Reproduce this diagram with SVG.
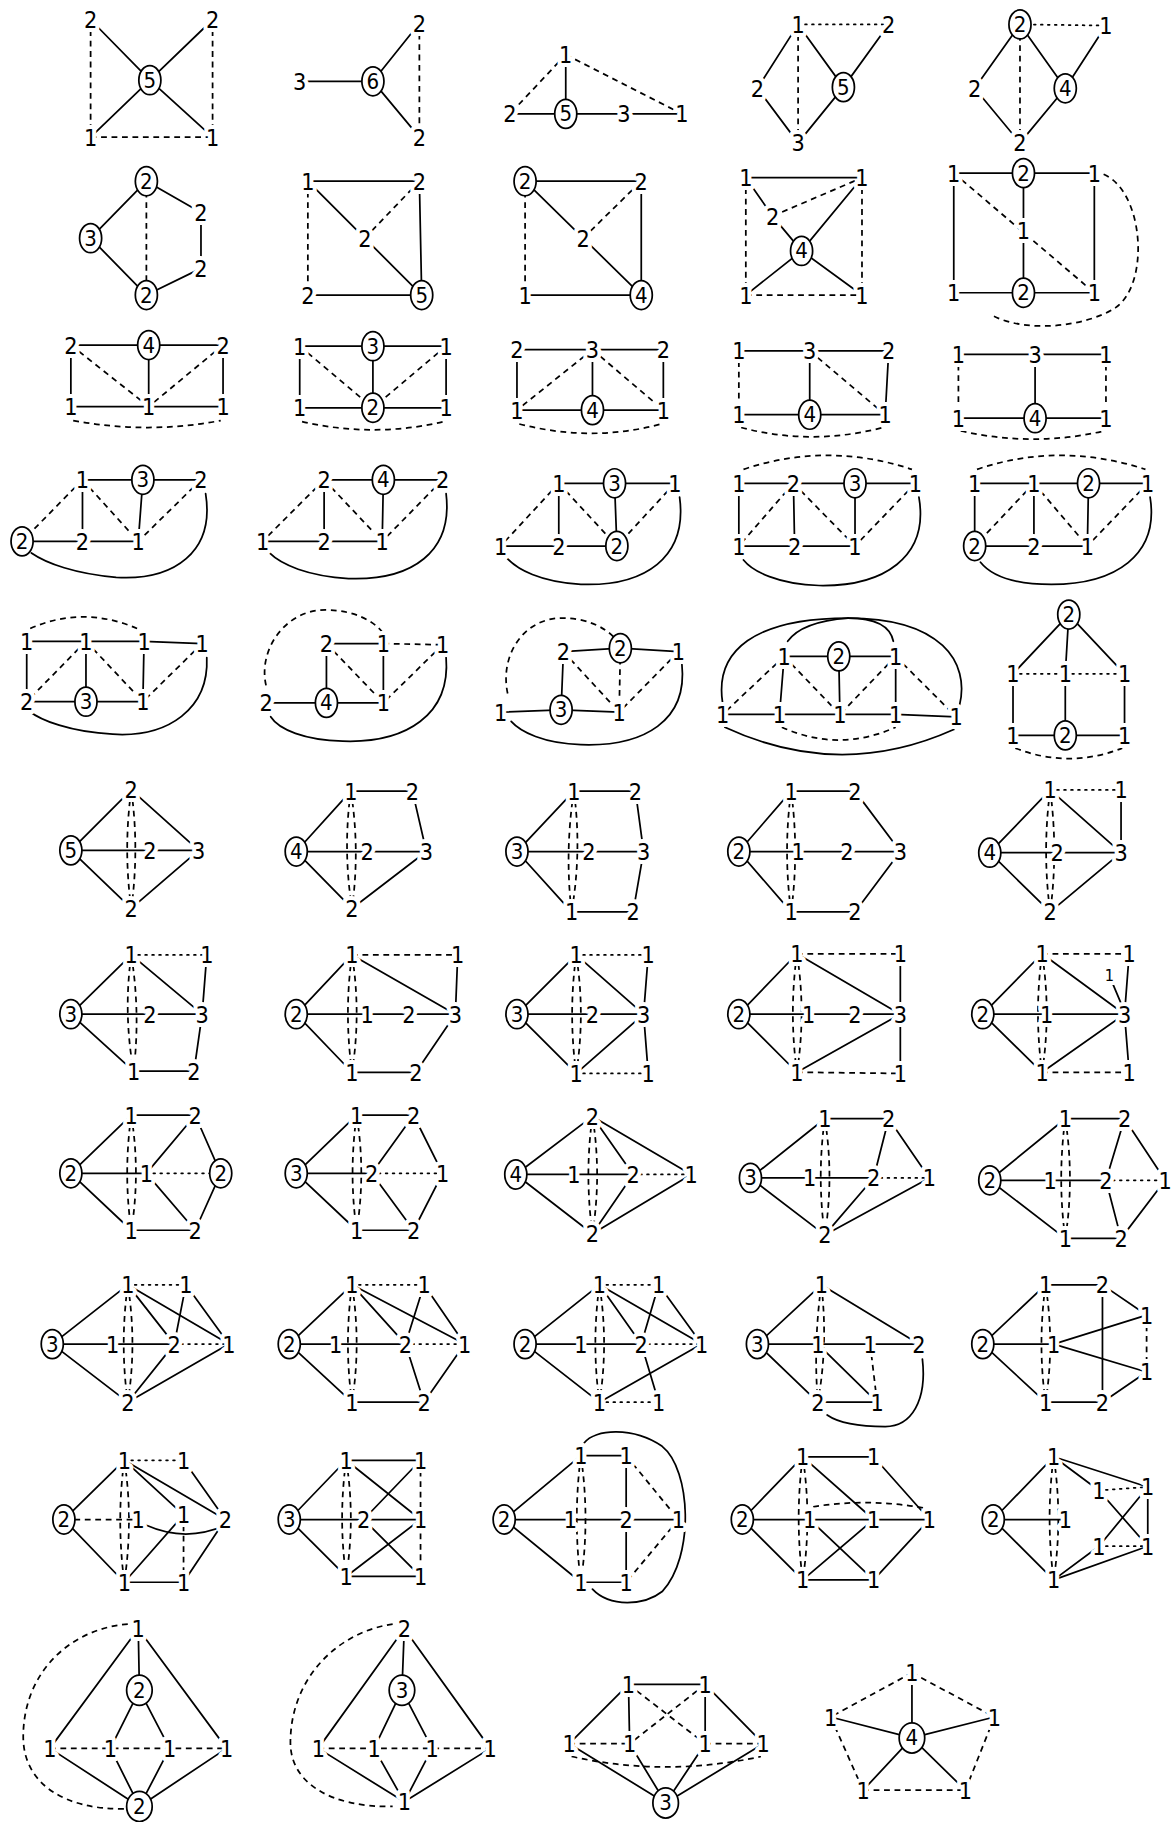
<svg xmlns="http://www.w3.org/2000/svg" width="1171" height="1822" viewBox="0 0 1171 1822">
<style>
.s path{stroke:#000;stroke-width:1.5;fill:none;stroke-linecap:round}
.d path{stroke:#000;stroke-width:1.5;fill:none;stroke-dasharray:5 4}
.o path{stroke:#000;stroke-width:1.5;fill:none;stroke-dasharray:1.5 4.5;stroke-linecap:round}
text{font-family:"Liberation Sans Narrow","DejaVu Sans Condensed","Liberation Sans",sans-serif;font-size:20px;text-anchor:middle;dominant-baseline:central;fill:#000}
.n>text{stroke:#fff;stroke-width:7;paint-order:stroke;stroke-linejoin:round}
.c text{font-size:19px}
ellipse{fill:#fff;stroke:#000;stroke-width:1.5}
.sm{font-size:14px}
</style>
<rect width="1171" height="1822" fill="#fff"/>
<g transform="scale(1.16171)">
<g id="connectors">
<g id="e1"><g class="s"><path d="M78 17L129 69"/><path d="M183 17L129 69"/><path d="M78 118L129 69"/><path d="M183 118L129 69"/></g><g class="d"><path d="M78 17L78 118"/><path d="M183 17L183 118"/><path d="M78 118L183 118"/></g></g>
<g id="e2"><g class="s"><path d="M258 70L321 70"/><path d="M321 70L361 20"/><path d="M321 70L361 118"/></g><g class="d"><path d="M361 20L361 118"/></g></g>
<g id="e3"><g class="s"><path d="M487 47L487 98"/><path d="M439 98L487 98"/><path d="M487 98L537 98"/><path d="M537 98L587 98"/></g><g class="d"><path d="M487 47L439 98"/><path d="M487 47L587 98"/></g></g>
<g id="e4"><g class="s"><path d="M687 21L652 76"/><path d="M652 76L687 123"/><path d="M687 21L726 75"/><path d="M765 21L726 75"/><path d="M726 75L687 123"/></g><g class="d"><path d="M687 21L687 123"/></g><g class="o"><path d="M687 21L765 21"/></g></g>
<g id="e5"><g class="s"><path d="M878 21L839 76"/><path d="M839 76L878 123"/><path d="M878 21L917 76"/><path d="M952 22L917 76"/><path d="M917 76L878 123"/></g><g class="d"><path d="M878 21L878 123"/></g><g class="o"><path d="M878 21L952 22"/></g></g>
<g id="e6"><g class="s"><path d="M126 156L78 205"/><path d="M78 205L126 254"/><path d="M126 156L173 183"/><path d="M173 183L173 231"/><path d="M173 231L126 254"/></g><g class="d"><path d="M126 156L126 254"/></g></g>
<g id="e7"><g class="s"><path d="M265 156L361 156"/><path d="M265 156L314 205"/><path d="M361 156L363 254"/><path d="M314 205L363 254"/><path d="M265 254L363 254"/></g><g class="d"><path d="M314 205L361 156"/><path d="M265 156L265 254"/></g></g>
<g id="e8"><g class="s"><path d="M452 156L552 156"/><path d="M452 156L502 205"/><path d="M552 156L552 254"/><path d="M502 205L552 254"/><path d="M452 254L552 254"/></g><g class="d"><path d="M502 205L552 156"/><path d="M452 156L452 254"/></g></g>
<g id="e9"><g class="s"><path d="M642 153L742 153"/><path d="M642 153L665 186"/><path d="M665 186L690 216"/><path d="M690 216L742 153"/><path d="M690 216L642 254"/><path d="M690 216L742 254"/></g><g class="d"><path d="M642 153L642 254"/><path d="M742 153L742 254"/><path d="M642 254L742 254"/><path d="M665 186L742 153"/></g></g>
<g id="e10"><g class="s"><path d="M821 149L942 149"/><path d="M821 252L942 252"/><path d="M821 149L821 252"/><path d="M942 149L942 252"/><path d="M881 149L881 252"/></g><g class="d"><path d="M821 149L942 252"/><path d="M950 150C985 165 990 245 960 265C935 281 885 287 855 272"/></g></g>
<g id="e11"><g class="s"><path d="M61 297L192 297"/><path d="M61 350L192 350"/><path d="M61 297L61 350"/><path d="M192 297L192 350"/><path d="M128 297L128 350"/></g><g class="d"><path d="M61 297L128 350"/><path d="M192 297L128 350"/><path d="M63 362Q128 374 190 362"/></g></g>
<g id="e12"><g class="s"><path d="M258 298L384 298"/><path d="M258 351L384 351"/><path d="M258 298L258 351"/><path d="M384 298L384 351"/><path d="M321 298L321 351"/></g><g class="d"><path d="M258 298L321 351"/><path d="M384 298L321 351"/><path d="M260 363Q321 377 382 363"/></g></g>
<g id="e13"><g class="s"><path d="M445 301L571 301"/><path d="M445 353L571 353"/><path d="M445 301L445 353"/><path d="M571 301L571 353"/><path d="M510 301L510 353"/></g><g class="d"><path d="M510 301L445 353"/><path d="M510 301L571 353"/><path d="M447 365Q510 381 569 365"/></g></g>
<g id="e14"><g class="s"><path d="M636 302L765 302"/><path d="M636 357L762 357"/><path d="M765 302L762 357"/><path d="M697 302L697 357"/></g><g class="d"><path d="M636 302L636 357"/><path d="M697 302L762 357"/><path d="M638 368Q698 384 760 368"/></g></g>
<g id="e15"><g class="s"><path d="M825 305L952 305"/><path d="M825 360L952 360"/><path d="M891 305L891 360"/></g><g class="d"><path d="M825 305L825 360"/><path d="M952 305L952 360"/><path d="M827 371Q890 385 950 371"/></g></g>
<g id="e16"><g class="s"><path d="M71 413L173 413"/><path d="M19 466L119 466"/><path d="M71 413L71 466"/><path d="M123 413L119 466"/><path d="M177 425C185 475 150 500 100 497C65 494 40 485 27 476"/></g><g class="d"><path d="M71 413L119 466"/><path d="M173 413L119 466"/><path d="M71 413L19 466"/></g></g>
<g id="e17"><g class="s"><path d="M279 413L381 413"/><path d="M226 466L329 466"/><path d="M279 413L279 466"/><path d="M330 413L329 466"/><path d="M384 425C390 475 355 500 300 498C265 496 242 486 232 476"/></g><g class="d"><path d="M279 413L329 466"/><path d="M381 413L329 466"/><path d="M279 413L226 466"/></g></g>
<g id="e18"><g class="s"><path d="M481 416L581 416"/><path d="M431 470L531 470"/><path d="M481 416L481 470"/><path d="M529 416L531 470"/><path d="M585 428C592 480 555 505 500 503C465 501 445 490 436 480"/></g><g class="d"><path d="M481 416L531 470"/><path d="M581 416L531 470"/><path d="M481 416L431 470"/></g></g>
<g id="e19"><g class="s"><path d="M636 416L788 416"/><path d="M636 470L736 470"/><path d="M636 416L636 470"/><path d="M683 416L684 470"/><path d="M736 416L736 470"/><path d="M791 428C800 480 760 505 705 504C670 503 648 492 640 482"/></g><g class="d"><path d="M683 416L636 470"/><path d="M683 416L736 470"/><path d="M788 416L736 470"/><path d="M640 404Q712 380 785 404"/></g></g>
<g id="e20"><g class="s"><path d="M839 416L988 416"/><path d="M839 470L936 470"/><path d="M839 416L839 470"/><path d="M890 416L890 470"/><path d="M937 416L936 470"/><path d="M990 428C998 478 960 503 905 503C870 503 852 494 844 484"/></g><g class="d"><path d="M890 416L839 470"/><path d="M890 416L936 470"/><path d="M988 416L936 470"/><path d="M841 404Q912 380 986 404"/></g></g>
<g id="e21"><g class="s"><path d="M23 552L124 552"/><path d="M124 552L174 554"/><path d="M23 604L123 604"/><path d="M23 552L23 604"/><path d="M74 552L74 604"/><path d="M124 552L123 604"/><path d="M178 566C180 610 145 635 97 632C60 630 35 620 25 612"/></g><g class="d"><path d="M74 552L23 604"/><path d="M74 552L123 604"/><path d="M174 554L123 604"/><path d="M26 541Q71 521 118 541"/></g></g>
<g id="e22"><g class="s"><path d="M281 554L330 554"/><path d="M229 605L330 605"/><path d="M281 554L281 605"/><path d="M330 554L330 605"/><path d="M384 566C388 615 350 640 295 638C262 637 240 628 233 617"/></g><g class="d"><path d="M330 554L381 555"/><path d="M281 554L330 605"/><path d="M381 555L330 605"/><path d="M229 590C222 560 245 525 280 525C305 525 322 535 329 544"/></g></g>
<g id="e23"><g class="s"><path d="M485 561L534 558"/><path d="M534 558L584 561"/><path d="M431 613L483 611"/><path d="M483 611L533 613"/><path d="M485 561L483 611"/><path d="M587 572C592 620 555 643 500 641C468 640 448 630 440 621"/></g><g class="d"><path d="M534 558L533 613"/><path d="M485 561L533 613"/><path d="M584 561L533 613"/><path d="M437 597C430 565 450 532 484 532C505 532 520 540 528 548"/></g></g>
<g id="e24"><g class="s"><path d="M675 565L771 565"/><path d="M622 615L771 615"/><path d="M771 615L823 617"/><path d="M675 565L671 615"/><path d="M722 565L723 615"/><path d="M771 565L771 615"/><path d="M622 605C615 560 650 532 730 532C810 532 835 570 826 607"/><path d="M730 532Q690 535 678 552"/><path d="M730 532Q765 532 769 552"/><path d="M624 626Q723 672 821 628"/></g><g class="d"><path d="M675 565L622 615"/><path d="M675 565L723 615"/><path d="M771 565L723 615"/><path d="M771 565L823 617"/><path d="M673 626Q722 648 771 626"/></g></g>
<g id="e25"><g class="s"><path d="M920 529L872 580"/><path d="M920 529L917 580"/><path d="M920 529L968 580"/><path d="M872 580L872 633"/><path d="M917 580L917 633"/><path d="M968 580L968 633"/><path d="M872 633L968 633"/></g><g class="o"><path d="M872 580L917 580"/><path d="M917 580L968 580"/></g><g class="d"><path d="M874 644Q920 662 966 644"/></g></g>
<g id="e26"><g class="s"><path d="M113 680L61 732"/><path d="M61 732L113 782"/><path d="M113 680L171 732"/><path d="M171 732L113 782"/><path d="M61 732L171 732"/></g><g class="d"><path d="M113 680Q106 731 113 782"/><path d="M113 680Q120 731 113 782"/></g></g>
<g id="e27"><g class="s"><path d="M302 681L355 681"/><path d="M355 681L367 733"/><path d="M255 733L302 681"/><path d="M255 733L303 782"/><path d="M255 733L367 733"/><path d="M367 733L303 782"/></g><g class="d"><path d="M302 681Q295 731 303 782"/><path d="M302 681Q310 731 303 782"/></g></g>
<g id="e28"><g class="s"><path d="M494 681L547 681"/><path d="M547 681L554 733"/><path d="M445 733L494 681"/><path d="M445 733L492 785"/><path d="M445 733L554 733"/><path d="M554 733L545 785"/><path d="M492 785L545 785"/></g><g class="d"><path d="M494 681Q486 733 492 785"/><path d="M494 681Q501 733 492 785"/></g></g>
<g id="e29"><g class="s"><path d="M681 681L736 681"/><path d="M736 681L775 733"/><path d="M636 733L681 681"/><path d="M636 733L681 785"/><path d="M636 733L775 733"/><path d="M775 733L736 785"/><path d="M681 785L736 785"/></g><g class="d"><path d="M681 681Q674 733 681 785"/><path d="M681 681Q688 733 681 785"/></g></g>
<g id="e30"><g class="s"><path d="M965 680L965 734"/><path d="M852 734L904 680"/><path d="M852 734L904 785"/><path d="M904 680L965 734"/><path d="M965 734L904 785"/><path d="M852 734L965 734"/></g><g class="o"><path d="M904 680L965 680"/></g><g class="d"><path d="M904 680Q897 733 904 785"/><path d="M904 680Q911 733 904 785"/></g></g>
<g id="e31"><g class="s"><path d="M178 822L174 873"/><path d="M113 822L174 873"/><path d="M61 873L113 822"/><path d="M61 873L115 922"/><path d="M61 873L174 873"/><path d="M174 873L167 922"/><path d="M115 922L167 922"/></g><g class="o"><path d="M113 822L178 822"/></g><g class="d"><path d="M113 822Q106 872 115 922"/><path d="M113 822Q121 872 115 922"/></g></g>
<g id="e32"><g class="s"><path d="M394 822L392 873"/><path d="M303 822L392 873"/><path d="M255 873L303 822"/><path d="M255 873L303 923"/><path d="M255 873L392 873"/><path d="M392 873L358 923"/><path d="M303 923L358 923"/></g><g class="d"><path d="M303 822L394 822"/><path d="M303 822Q296 872 303 923"/><path d="M303 822Q311 872 303 923"/></g></g>
<g id="e33"><g class="s"><path d="M558 822L554 873"/><path d="M554 873L558 924"/><path d="M445 873L496 822"/><path d="M445 873L496 924"/><path d="M445 873L554 873"/><path d="M496 822L554 873"/><path d="M496 924L554 873"/></g><g class="o"><path d="M496 822L558 822"/><path d="M496 924L558 924"/></g><g class="d"><path d="M496 822Q489 873 496 924"/><path d="M496 822Q504 873 496 924"/></g></g>
<g id="e34"><g class="s"><path d="M775 821L775 924"/><path d="M636 873L686 821"/><path d="M636 873L686 923"/><path d="M636 873L775 873"/><path d="M686 821L775 873"/><path d="M686 923L775 873"/></g><g class="d"><path d="M686 821L775 821"/><path d="M686 923L775 924"/><path d="M686 821Q679 872 686 923"/><path d="M686 821Q694 872 686 923"/></g></g>
<g id="e35"><g class="s"><path d="M972 821L968 873"/><path d="M968 873L972 923"/><path d="M846 873L897 821"/><path d="M846 873L897 923"/><path d="M846 873L968 873"/><path d="M897 821L968 873"/><path d="M897 923L968 873"/><path d="M955 840L966 866"/></g><g class="d"><path d="M897 821L972 821"/><path d="M897 923L972 923"/><path d="M897 821Q890 872 897 923"/><path d="M897 821Q905 872 897 923"/></g></g>
<g id="e36"><g class="s"><path d="M113 960L168 960"/><path d="M61 1010L113 960"/><path d="M61 1010L113 1059"/><path d="M61 1010L126 1010"/><path d="M168 960L126 1010"/><path d="M168 960L190 1010"/><path d="M126 1010L168 1059"/><path d="M190 1010L168 1059"/><path d="M113 1059L168 1059"/></g><g class="o"><path d="M126 1010L190 1010"/></g><g class="d"><path d="M113 960Q106 1010 113 1059"/><path d="M113 960Q121 1010 113 1059"/></g></g>
<g id="e37"><g class="s"><path d="M307 960L356 960"/><path d="M255 1010L307 960"/><path d="M255 1010L307 1059"/><path d="M255 1010L320 1010"/><path d="M356 960L320 1010"/><path d="M356 960L381 1010"/><path d="M320 1010L356 1059"/><path d="M381 1010L356 1059"/><path d="M307 1059L356 1059"/></g><g class="o"><path d="M320 1010L381 1010"/></g><g class="d"><path d="M307 960Q300 1010 307 1059"/><path d="M307 960Q315 1010 307 1059"/></g></g>
<g id="e38"><g class="s"><path d="M510 961L444 1011"/><path d="M444 1011L510 1062"/><path d="M510 961L545 1011"/><path d="M510 961L595 1011"/><path d="M545 1011L510 1062"/><path d="M595 1011L510 1062"/><path d="M444 1011L545 1011"/></g><g class="o"><path d="M545 1011L595 1011"/></g><g class="d"><path d="M510 961Q503 1011 510 1062"/><path d="M510 961Q518 1011 510 1062"/></g></g>
<g id="e39"><g class="s"><path d="M710 963L765 963"/><path d="M646 1014L710 963"/><path d="M646 1014L710 1063"/><path d="M765 963L752 1014"/><path d="M765 963L800 1014"/><path d="M752 1014L710 1063"/><path d="M800 1014L710 1063"/><path d="M646 1014L752 1014"/></g><g class="o"><path d="M752 1014L800 1014"/></g><g class="d"><path d="M710 963Q703 1013 710 1063"/><path d="M710 963Q718 1013 710 1063"/></g></g>
<g id="e40"><g class="s"><path d="M917 963L968 963"/><path d="M852 1016L917 963"/><path d="M852 1016L917 1066"/><path d="M968 963L952 1016"/><path d="M968 963L1003 1016"/><path d="M952 1016L965 1066"/><path d="M1003 1016L965 1066"/><path d="M852 1016L952 1016"/><path d="M917 1066L965 1066"/></g><g class="o"><path d="M952 1016L1003 1016"/></g><g class="d"><path d="M917 963Q910 1015 917 1066"/><path d="M917 963Q925 1015 917 1066"/></g></g>
<g id="e41"><g class="s"><path d="M45 1157L110 1106"/><path d="M45 1157L110 1207"/><path d="M45 1157L150 1157"/><path d="M110 1106L150 1157"/><path d="M110 1106L197 1157"/><path d="M160 1106L150 1157"/><path d="M160 1106L197 1157"/><path d="M150 1157L110 1207"/><path d="M197 1157L110 1207"/></g><g class="o"><path d="M110 1106L160 1106"/><path d="M150 1157L197 1157"/></g><g class="d"><path d="M110 1106Q103 1157 110 1207"/><path d="M110 1106Q118 1157 110 1207"/></g></g>
<g id="e42"><g class="s"><path d="M249 1157L303 1106"/><path d="M249 1157L303 1207"/><path d="M249 1157L349 1157"/><path d="M303 1106L349 1157"/><path d="M303 1106L400 1157"/><path d="M365 1106L349 1157"/><path d="M365 1106L400 1157"/><path d="M349 1157L365 1207"/><path d="M400 1157L365 1207"/><path d="M303 1207L365 1207"/></g><g class="o"><path d="M303 1106L365 1106"/><path d="M349 1157L400 1157"/></g><g class="d"><path d="M303 1106Q296 1157 303 1207"/><path d="M303 1106Q311 1157 303 1207"/></g></g>
<g id="e43"><g class="s"><path d="M452 1157L516 1106"/><path d="M452 1157L516 1207"/><path d="M452 1157L552 1157"/><path d="M516 1106L552 1157"/><path d="M516 1106L604 1157"/><path d="M567 1106L552 1157"/><path d="M567 1106L604 1157"/><path d="M552 1157L567 1207"/><path d="M604 1157L516 1207"/></g><g class="o"><path d="M516 1106L567 1106"/><path d="M516 1207L567 1207"/><path d="M552 1157L604 1157"/></g><g class="d"><path d="M516 1106Q509 1157 516 1207"/><path d="M516 1106Q524 1157 516 1207"/></g></g>
<g id="e44"><g class="s"><path d="M652 1157L707 1106"/><path d="M652 1157L704 1207"/><path d="M652 1157L791 1157"/><path d="M707 1106L791 1157"/><path d="M704 1157L755 1207"/><path d="M704 1207L755 1207"/><path d="M794 1170C798 1205 785 1228 762 1228C740 1228 722 1225 712 1218"/></g><g class="d"><path d="M749 1157L755 1207"/><path d="M707 1106Q700 1157 704 1207"/><path d="M707 1106Q713 1157 704 1207"/></g></g>
<g id="e45"><g class="s"><path d="M900 1106L949 1106"/><path d="M949 1106L987 1132"/><path d="M987 1181L949 1207"/><path d="M900 1207L949 1207"/><path d="M846 1157L900 1106"/><path d="M846 1157L900 1207"/><path d="M846 1157L907 1157"/><path d="M907 1157L987 1132"/><path d="M907 1157L987 1181"/><path d="M949 1106L949 1207"/></g><g class="d"><path d="M987 1132L987 1181"/><path d="M900 1106Q893 1157 900 1207"/><path d="M900 1106Q908 1157 900 1207"/></g></g>
<g id="e46"><g class="s"><path d="M55 1308L107 1257"/><path d="M55 1308L107 1362"/><path d="M107 1257L158 1304"/><path d="M107 1257L194 1308"/><path d="M158 1257L194 1308"/><path d="M107 1362L158 1304"/><path d="M158 1362L194 1308"/><path d="M107 1362L158 1362"/><path d="M126 1313Q160 1328 194 1313"/></g><g class="o"><path d="M107 1257L158 1257"/></g><g class="d"><path d="M55 1308L119 1308"/><path d="M158 1304L158 1362"/><path d="M107 1257Q100 1308 107 1362"/><path d="M107 1257Q115 1308 107 1362"/></g></g>
<g id="e47"><g class="s"><path d="M298 1257L362 1257"/><path d="M298 1357L362 1357"/><path d="M249 1308L298 1257"/><path d="M249 1308L298 1357"/><path d="M249 1308L362 1308"/><path d="M298 1257L362 1308"/><path d="M362 1257L313 1308"/><path d="M313 1308L362 1357"/><path d="M362 1308L298 1357"/></g><g class="d"><path d="M362 1257L362 1357"/><path d="M298 1257Q291 1307 298 1357"/><path d="M298 1257Q306 1307 298 1357"/></g></g>
<g id="e48"><g class="s"><path d="M500 1253L539 1253"/><path d="M500 1362L539 1362"/><path d="M434 1308L500 1253"/><path d="M434 1308L500 1362"/><path d="M434 1308L584 1308"/><path d="M539 1253L539 1362"/><path d="M503 1242C512 1230 545 1228 570 1245C595 1265 598 1340 570 1370C555 1382 525 1384 510 1368"/></g><g class="d"><path d="M539 1253L584 1308"/><path d="M584 1308L539 1362"/><path d="M500 1253Q493 1308 500 1362"/><path d="M500 1253Q508 1308 500 1362"/></g></g>
<g id="e49"><g class="s"><path d="M691 1254L752 1254"/><path d="M691 1360L752 1360"/><path d="M639 1308L691 1254"/><path d="M639 1308L691 1360"/><path d="M639 1308L800 1308"/><path d="M691 1254L752 1308"/><path d="M752 1254L800 1308"/><path d="M800 1308L752 1360"/><path d="M697 1308L752 1360"/><path d="M752 1308L691 1360"/></g><g class="d"><path d="M700 1297Q750 1289 800 1299"/><path d="M691 1254Q684 1307 691 1360"/><path d="M691 1254Q699 1307 691 1360"/></g></g>
<g id="e50"><g class="s"><path d="M855 1308L907 1254"/><path d="M855 1308L907 1360"/><path d="M855 1308L917 1308"/><path d="M907 1254L988 1280"/><path d="M907 1254L946 1283"/><path d="M946 1283L988 1331"/><path d="M988 1280L946 1331"/><path d="M988 1280L988 1331"/><path d="M907 1360L988 1331"/><path d="M907 1360L946 1331"/></g><g class="o"><path d="M946 1283L988 1280"/><path d="M946 1331L988 1331"/></g><g class="d"><path d="M907 1254Q900 1307 907 1360"/><path d="M907 1254Q915 1307 907 1360"/></g></g>
<g id="e51"><g class="s"><path d="M119 1402L43 1505"/><path d="M119 1402L120 1455"/><path d="M119 1402L195 1505"/><path d="M120 1455L95 1505"/><path d="M120 1455L146 1505"/><path d="M43 1505L120 1555"/><path d="M95 1505L120 1555"/><path d="M146 1505L120 1555"/><path d="M195 1505L120 1555"/></g><g class="d"><path d="M43 1505L195 1505"/><path d="M110 1398C60 1402 20 1440 20 1495C20 1535 55 1558 107 1557"/></g></g>
<g id="e52"><g class="s"><path d="M348 1402L274 1505"/><path d="M348 1402L346 1455"/><path d="M348 1402L422 1505"/><path d="M346 1455L322 1505"/><path d="M346 1455L372 1505"/><path d="M274 1505L348 1551"/><path d="M322 1505L348 1551"/><path d="M372 1505L348 1551"/><path d="M422 1505L348 1551"/></g><g class="d"><path d="M274 1505L422 1505"/><path d="M338 1398C290 1405 250 1445 250 1500C250 1535 285 1556 338 1555"/></g></g>
<g id="e53"><g class="s"><path d="M541 1450L607 1450"/><path d="M541 1450L542 1501"/><path d="M607 1450L607 1501"/><path d="M541 1450L490 1501"/><path d="M607 1450L657 1501"/><path d="M573 1552L490 1501"/><path d="M573 1552L542 1501"/><path d="M573 1552L607 1501"/><path d="M573 1552L657 1501"/></g><g class="d"><path d="M541 1450L607 1501"/><path d="M607 1450L542 1501"/><path d="M490 1501L542 1501"/><path d="M607 1501L657 1501"/><path d="M492 1512Q573 1530 655 1512"/></g></g>
<g id="e54"><g class="s"><path d="M785 1496L785 1440"/><path d="M785 1496L715 1478"/><path d="M785 1496L856 1478"/><path d="M785 1496L743 1541"/><path d="M785 1496L831 1541"/></g><g class="d"><path d="M785 1440L715 1478"/><path d="M785 1440L856 1478"/><path d="M715 1478L743 1541"/><path d="M856 1478L831 1541"/><path d="M743 1541L831 1541"/></g></g>
</g>
<g id="nodes">
<g id="n1" class="n"><text x="78" y="17">2</text><text x="183" y="17">2</text><g class="c"><ellipse cx="129" cy="69" rx="9.5" ry="12.5"/><text x="129" y="69">5</text></g><text x="78" y="118">1</text><text x="183" y="118">1</text></g>
<g id="n2" class="n"><text x="258" y="70">3</text><g class="c"><ellipse cx="321" cy="70" rx="9.5" ry="12.5"/><text x="321" y="70">6</text></g><text x="361" y="20">2</text><text x="361" y="118">2</text></g>
<g id="n3" class="n"><text x="487" y="47">1</text><g class="c"><ellipse cx="487" cy="98" rx="9.5" ry="12.5"/><text x="487" y="98">5</text></g><text x="439" y="98">2</text><text x="537" y="98">3</text><text x="587" y="98">1</text></g>
<g id="n4" class="n"><text x="687" y="21">1</text><text x="765" y="21">2</text><text x="652" y="76">2</text><g class="c"><ellipse cx="726" cy="75" rx="9.5" ry="12.5"/><text x="726" y="75">5</text></g><text x="687" y="123">3</text></g>
<g id="n5" class="n"><g class="c"><ellipse cx="878" cy="21" rx="9.5" ry="12.5"/><text x="878" y="21">2</text></g><text x="952" y="22">1</text><text x="839" y="76">2</text><g class="c"><ellipse cx="917" cy="76" rx="9.5" ry="12.5"/><text x="917" y="76">4</text></g><text x="878" y="123">2</text></g>
<g id="n6" class="n"><g class="c"><ellipse cx="126" cy="156" rx="9.5" ry="12.5"/><text x="126" y="156">2</text></g><text x="173" y="183">2</text><g class="c"><ellipse cx="78" cy="205" rx="9.5" ry="12.5"/><text x="78" y="205">3</text></g><text x="173" y="231">2</text><g class="c"><ellipse cx="126" cy="254" rx="9.5" ry="12.5"/><text x="126" y="254">2</text></g></g>
<g id="n7" class="n"><text x="265" y="156">1</text><text x="361" y="156">2</text><text x="314" y="205">2</text><text x="265" y="254">2</text><g class="c"><ellipse cx="363" cy="254" rx="9.5" ry="12.5"/><text x="363" y="254">5</text></g></g>
<g id="n8" class="n"><g class="c"><ellipse cx="452" cy="156" rx="9.5" ry="12.5"/><text x="452" y="156">2</text></g><text x="552" y="156">2</text><text x="502" y="205">2</text><text x="452" y="254">1</text><g class="c"><ellipse cx="552" cy="254" rx="9.5" ry="12.5"/><text x="552" y="254">4</text></g></g>
<g id="n9" class="n"><text x="642" y="153">1</text><text x="742" y="153">1</text><text x="665" y="186">2</text><g class="c"><ellipse cx="690" cy="216" rx="9.5" ry="12.5"/><text x="690" y="216">4</text></g><text x="642" y="254">1</text><text x="742" y="254">1</text></g>
<g id="n10" class="n"><text x="821" y="149">1</text><g class="c"><ellipse cx="881" cy="149" rx="9.5" ry="12.5"/><text x="881" y="149">2</text></g><text x="942" y="149">1</text><text x="881" y="198">1</text><text x="821" y="252">1</text><g class="c"><ellipse cx="881" cy="252" rx="9.5" ry="12.5"/><text x="881" y="252">2</text></g><text x="942" y="252">1</text></g>
<g id="n11" class="n"><text x="61" y="297">2</text><g class="c"><ellipse cx="128" cy="297" rx="9.5" ry="12.5"/><text x="128" y="297">4</text></g><text x="192" y="297">2</text><text x="61" y="350">1</text><text x="128" y="350">1</text><text x="192" y="350">1</text></g>
<g id="n12" class="n"><text x="258" y="298">1</text><g class="c"><ellipse cx="321" cy="298" rx="9.5" ry="12.5"/><text x="321" y="298">3</text></g><text x="384" y="298">1</text><text x="258" y="351">1</text><g class="c"><ellipse cx="321" cy="351" rx="9.5" ry="12.5"/><text x="321" y="351">2</text></g><text x="384" y="351">1</text></g>
<g id="n13" class="n"><text x="445" y="301">2</text><text x="510" y="301">3</text><text x="571" y="301">2</text><text x="445" y="353">1</text><g class="c"><ellipse cx="510" cy="353" rx="9.5" ry="12.5"/><text x="510" y="353">4</text></g><text x="571" y="353">1</text></g>
<g id="n14" class="n"><text x="636" y="302">1</text><text x="697" y="302">3</text><text x="765" y="302">2</text><text x="636" y="357">1</text><g class="c"><ellipse cx="697" cy="357" rx="9.5" ry="12.5"/><text x="697" y="357">4</text></g><text x="762" y="357">1</text></g>
<g id="n15" class="n"><text x="825" y="305">1</text><text x="891" y="305">3</text><text x="952" y="305">1</text><text x="825" y="360">1</text><g class="c"><ellipse cx="891" cy="360" rx="9.5" ry="12.5"/><text x="891" y="360">4</text></g><text x="952" y="360">1</text></g>
<g id="n16" class="n"><text x="71" y="413">1</text><g class="c"><ellipse cx="123" cy="413" rx="9.5" ry="12.5"/><text x="123" y="413">3</text></g><text x="173" y="413">2</text><g class="c"><ellipse cx="19" cy="466" rx="9.5" ry="12.5"/><text x="19" y="466">2</text></g><text x="71" y="466">2</text><text x="119" y="466">1</text></g>
<g id="n17" class="n"><text x="279" y="413">2</text><g class="c"><ellipse cx="330" cy="413" rx="9.5" ry="12.5"/><text x="330" y="413">4</text></g><text x="381" y="413">2</text><text x="226" y="466">1</text><text x="279" y="466">2</text><text x="329" y="466">1</text></g>
<g id="n18" class="n"><text x="481" y="416">1</text><g class="c"><ellipse cx="529" cy="416" rx="9.5" ry="12.5"/><text x="529" y="416">3</text></g><text x="581" y="416">1</text><text x="431" y="470">1</text><text x="481" y="470">2</text><g class="c"><ellipse cx="531" cy="470" rx="9.5" ry="12.5"/><text x="531" y="470">2</text></g></g>
<g id="n19" class="n"><text x="636" y="416">1</text><text x="683" y="416">2</text><g class="c"><ellipse cx="736" cy="416" rx="9.5" ry="12.5"/><text x="736" y="416">3</text></g><text x="788" y="416">1</text><text x="636" y="470">1</text><text x="684" y="470">2</text><text x="736" y="470">1</text></g>
<g id="n20" class="n"><text x="839" y="416">1</text><text x="890" y="416">1</text><g class="c"><ellipse cx="937" cy="416" rx="9.5" ry="12.5"/><text x="937" y="416">2</text></g><text x="988" y="416">1</text><g class="c"><ellipse cx="839" cy="470" rx="9.5" ry="12.5"/><text x="839" y="470">2</text></g><text x="890" y="470">2</text><text x="936" y="470">1</text></g>
<g id="n21" class="n"><text x="23" y="552">1</text><text x="74" y="552">1</text><text x="124" y="552">1</text><text x="174" y="554">1</text><text x="23" y="604">2</text><g class="c"><ellipse cx="74" cy="604" rx="9.5" ry="12.5"/><text x="74" y="604">3</text></g><text x="123" y="604">1</text></g>
<g id="n22" class="n"><text x="281" y="554">2</text><text x="330" y="554">1</text><text x="381" y="555">1</text><text x="229" y="605">2</text><g class="c"><ellipse cx="281" cy="605" rx="9.5" ry="12.5"/><text x="281" y="605">4</text></g><text x="330" y="605">1</text></g>
<g id="n23" class="n"><text x="485" y="561">2</text><g class="c"><ellipse cx="534" cy="558" rx="9.5" ry="12.5"/><text x="534" y="558">2</text></g><text x="584" y="561">1</text><text x="431" y="613">1</text><g class="c"><ellipse cx="483" cy="611" rx="9.5" ry="12.5"/><text x="483" y="611">3</text></g><text x="533" y="613">1</text></g>
<g id="n24" class="n"><text x="675" y="565">1</text><g class="c"><ellipse cx="722" cy="565" rx="9.5" ry="12.5"/><text x="722" y="565">2</text></g><text x="771" y="565">1</text><text x="622" y="615">1</text><text x="671" y="615">1</text><text x="723" y="615">1</text><text x="771" y="615">1</text><text x="823" y="617">1</text></g>
<g id="n25" class="n"><g class="c"><ellipse cx="920" cy="529" rx="9.5" ry="12.5"/><text x="920" y="529">2</text></g><text x="872" y="580">1</text><text x="917" y="580">1</text><text x="968" y="580">1</text><text x="872" y="633">1</text><g class="c"><ellipse cx="917" cy="633" rx="9.5" ry="12.5"/><text x="917" y="633">2</text></g><text x="968" y="633">1</text></g>
<g id="n26" class="n"><text x="113" y="680">2</text><g class="c"><ellipse cx="61" cy="732" rx="9.5" ry="12.5"/><text x="61" y="732">5</text></g><text x="129" y="732">2</text><text x="171" y="732">3</text><text x="113" y="782">2</text></g>
<g id="n27" class="n"><text x="302" y="681">1</text><text x="355" y="681">2</text><g class="c"><ellipse cx="255" cy="733" rx="9.5" ry="12.5"/><text x="255" y="733">4</text></g><text x="316" y="733">2</text><text x="367" y="733">3</text><text x="303" y="782">2</text></g>
<g id="n28" class="n"><text x="494" y="681">1</text><text x="547" y="681">2</text><g class="c"><ellipse cx="445" cy="733" rx="9.5" ry="12.5"/><text x="445" y="733">3</text></g><text x="507" y="733">2</text><text x="554" y="733">3</text><text x="492" y="785">1</text><text x="545" y="785">2</text></g>
<g id="n29" class="n"><text x="681" y="681">1</text><text x="736" y="681">2</text><g class="c"><ellipse cx="636" cy="733" rx="9.5" ry="12.5"/><text x="636" y="733">2</text></g><text x="687" y="733">1</text><text x="729" y="733">2</text><text x="775" y="733">3</text><text x="681" y="785">1</text><text x="736" y="785">2</text></g>
<g id="n30" class="n"><text x="904" y="680">1</text><text x="965" y="680">1</text><g class="c"><ellipse cx="852" cy="734" rx="9.5" ry="12.5"/><text x="852" y="734">4</text></g><text x="910" y="734">2</text><text x="965" y="734">3</text><text x="904" y="785">2</text></g>
<g id="n31" class="n"><text x="113" y="822">1</text><text x="178" y="822">1</text><g class="c"><ellipse cx="61" cy="873" rx="9.5" ry="12.5"/><text x="61" y="873">3</text></g><text x="129" y="873">2</text><text x="174" y="873">3</text><text x="115" y="922">1</text><text x="167" y="922">2</text></g>
<g id="n32" class="n"><text x="303" y="822">1</text><text x="394" y="822">1</text><g class="c"><ellipse cx="255" cy="873" rx="9.5" ry="12.5"/><text x="255" y="873">2</text></g><text x="316" y="873">1</text><text x="352" y="873">2</text><text x="392" y="873">3</text><text x="303" y="923">1</text><text x="358" y="923">2</text></g>
<g id="n33" class="n"><text x="496" y="822">1</text><text x="558" y="822">1</text><g class="c"><ellipse cx="445" cy="873" rx="9.5" ry="12.5"/><text x="445" y="873">3</text></g><text x="510" y="873">2</text><text x="554" y="873">3</text><text x="496" y="924">1</text><text x="558" y="924">1</text></g>
<g id="n34" class="n"><text x="686" y="821">1</text><text x="775" y="821">1</text><g class="c"><ellipse cx="636" cy="873" rx="9.5" ry="12.5"/><text x="636" y="873">2</text></g><text x="696" y="873">1</text><text x="736" y="873">2</text><text x="775" y="873">3</text><text x="686" y="923">1</text><text x="775" y="924">1</text></g>
<g id="n35" class="n"><text x="897" y="821">1</text><text x="972" y="821">1</text><text class="sm" x="955" y="840">1</text><g class="c"><ellipse cx="846" cy="873" rx="9.5" ry="12.5"/><text x="846" y="873">2</text></g><text x="901" y="873">1</text><text x="968" y="873">3</text><text x="897" y="923">1</text><text x="972" y="923">1</text></g>
<g id="n36" class="n"><text x="113" y="960">1</text><text x="168" y="960">2</text><g class="c"><ellipse cx="61" cy="1010" rx="9.5" ry="12.5"/><text x="61" y="1010">2</text></g><text x="126" y="1010">1</text><g class="c"><ellipse cx="190" cy="1010" rx="9.5" ry="12.5"/><text x="190" y="1010">2</text></g><text x="113" y="1059">1</text><text x="168" y="1059">2</text></g>
<g id="n37" class="n"><text x="307" y="960">1</text><text x="356" y="960">2</text><g class="c"><ellipse cx="255" cy="1010" rx="9.5" ry="12.5"/><text x="255" y="1010">3</text></g><text x="320" y="1010">2</text><text x="381" y="1010">1</text><text x="307" y="1059">1</text><text x="356" y="1059">2</text></g>
<g id="n38" class="n"><text x="510" y="961">2</text><g class="c"><ellipse cx="444" cy="1011" rx="9.5" ry="12.5"/><text x="444" y="1011">4</text></g><text x="494" y="1011">1</text><text x="545" y="1011">2</text><text x="595" y="1011">1</text><text x="510" y="1062">2</text></g>
<g id="n39" class="n"><text x="710" y="963">1</text><text x="765" y="963">2</text><g class="c"><ellipse cx="646" cy="1014" rx="9.5" ry="12.5"/><text x="646" y="1014">3</text></g><text x="697" y="1014">1</text><text x="752" y="1014">2</text><text x="800" y="1014">1</text><text x="710" y="1063">2</text></g>
<g id="n40" class="n"><text x="917" y="963">1</text><text x="968" y="963">2</text><g class="c"><ellipse cx="852" cy="1016" rx="9.5" ry="12.5"/><text x="852" y="1016">2</text></g><text x="904" y="1016">1</text><text x="952" y="1016">2</text><text x="1003" y="1016">1</text><text x="917" y="1066">1</text><text x="965" y="1066">2</text></g>
<g id="n41" class="n"><text x="110" y="1106">1</text><text x="160" y="1106">1</text><g class="c"><ellipse cx="45" cy="1157" rx="9.5" ry="12.5"/><text x="45" y="1157">3</text></g><text x="97" y="1157">1</text><text x="150" y="1157">2</text><text x="197" y="1157">1</text><text x="110" y="1207">2</text></g>
<g id="n42" class="n"><text x="303" y="1106">1</text><text x="365" y="1106">1</text><g class="c"><ellipse cx="249" cy="1157" rx="9.5" ry="12.5"/><text x="249" y="1157">2</text></g><text x="289" y="1157">1</text><text x="349" y="1157">2</text><text x="400" y="1157">1</text><text x="303" y="1207">1</text><text x="365" y="1207">2</text></g>
<g id="n43" class="n"><text x="516" y="1106">1</text><text x="567" y="1106">1</text><g class="c"><ellipse cx="452" cy="1157" rx="9.5" ry="12.5"/><text x="452" y="1157">2</text></g><text x="500" y="1157">1</text><text x="552" y="1157">2</text><text x="604" y="1157">1</text><text x="516" y="1207">1</text><text x="567" y="1207">1</text></g>
<g id="n44" class="n"><text x="707" y="1106">1</text><g class="c"><ellipse cx="652" cy="1157" rx="9.5" ry="12.5"/><text x="652" y="1157">3</text></g><text x="704" y="1157">1</text><text x="749" y="1157">1</text><text x="791" y="1157">2</text><text x="704" y="1207">2</text><text x="755" y="1207">1</text></g>
<g id="n45" class="n"><text x="900" y="1106">1</text><text x="949" y="1106">2</text><text x="987" y="1132">1</text><g class="c"><ellipse cx="846" cy="1157" rx="9.5" ry="12.5"/><text x="846" y="1157">2</text></g><text x="907" y="1157">1</text><text x="987" y="1181">1</text><text x="900" y="1207">1</text><text x="949" y="1207">2</text></g>
<g id="n46" class="n"><text x="107" y="1257">1</text><text x="158" y="1257">1</text><g class="c"><ellipse cx="55" cy="1308" rx="9.5" ry="12.5"/><text x="55" y="1308">2</text></g><text x="119" y="1308">1</text><text x="158" y="1304">1</text><text x="194" y="1308">2</text><text x="107" y="1362">1</text><text x="158" y="1362">1</text></g>
<g id="n47" class="n"><text x="298" y="1257">1</text><text x="362" y="1257">1</text><g class="c"><ellipse cx="249" cy="1308" rx="9.5" ry="12.5"/><text x="249" y="1308">3</text></g><text x="313" y="1308">2</text><text x="362" y="1308">1</text><text x="298" y="1357">1</text><text x="362" y="1357">1</text></g>
<g id="n48" class="n"><text x="500" y="1253">1</text><text x="539" y="1253">1</text><g class="c"><ellipse cx="434" cy="1308" rx="9.5" ry="12.5"/><text x="434" y="1308">2</text></g><text x="491" y="1308">1</text><text x="539" y="1308">2</text><text x="584" y="1308">1</text><text x="500" y="1362">1</text><text x="539" y="1362">1</text></g>
<g id="n49" class="n"><text x="691" y="1254">1</text><text x="752" y="1254">1</text><g class="c"><ellipse cx="639" cy="1308" rx="9.5" ry="12.5"/><text x="639" y="1308">2</text></g><text x="697" y="1308">1</text><text x="752" y="1308">1</text><text x="800" y="1308">1</text><text x="691" y="1360">1</text><text x="752" y="1360">1</text></g>
<g id="n50" class="n"><text x="907" y="1254">1</text><g class="c"><ellipse cx="855" cy="1308" rx="9.5" ry="12.5"/><text x="855" y="1308">2</text></g><text x="917" y="1308">1</text><text x="946" y="1283">1</text><text x="988" y="1280">1</text><text x="946" y="1331">1</text><text x="988" y="1331">1</text><text x="907" y="1360">1</text></g>
<g id="n51" class="n"><text x="119" y="1402">1</text><g class="c"><ellipse cx="120" cy="1455" rx="11" ry="13"/><text x="120" y="1455">2</text></g><text x="43" y="1505">1</text><text x="95" y="1505">1</text><text x="146" y="1505">1</text><text x="195" y="1505">1</text><g class="c"><ellipse cx="120" cy="1555" rx="11" ry="13"/><text x="120" y="1555">2</text></g></g>
<g id="n52" class="n"><text x="348" y="1402">2</text><g class="c"><ellipse cx="346" cy="1455" rx="11" ry="13"/><text x="346" y="1455">3</text></g><text x="274" y="1505">1</text><text x="322" y="1505">1</text><text x="372" y="1505">1</text><text x="422" y="1505">1</text><text x="348" y="1551">1</text></g>
<g id="n53" class="n"><text x="541" y="1450">1</text><text x="607" y="1450">1</text><text x="490" y="1501">1</text><text x="542" y="1501">1</text><text x="607" y="1501">1</text><text x="657" y="1501">1</text><g class="c"><ellipse cx="573" cy="1552" rx="11" ry="13"/><text x="573" y="1552">3</text></g></g>
<g id="n54" class="n"><text x="785" y="1440">1</text><text x="715" y="1478">1</text><text x="856" y="1478">1</text><g class="c"><ellipse cx="785" cy="1496" rx="11" ry="13"/><text x="785" y="1496">4</text></g><text x="743" y="1541">1</text><text x="831" y="1541">1</text></g>
</g>
</g>
</svg>
